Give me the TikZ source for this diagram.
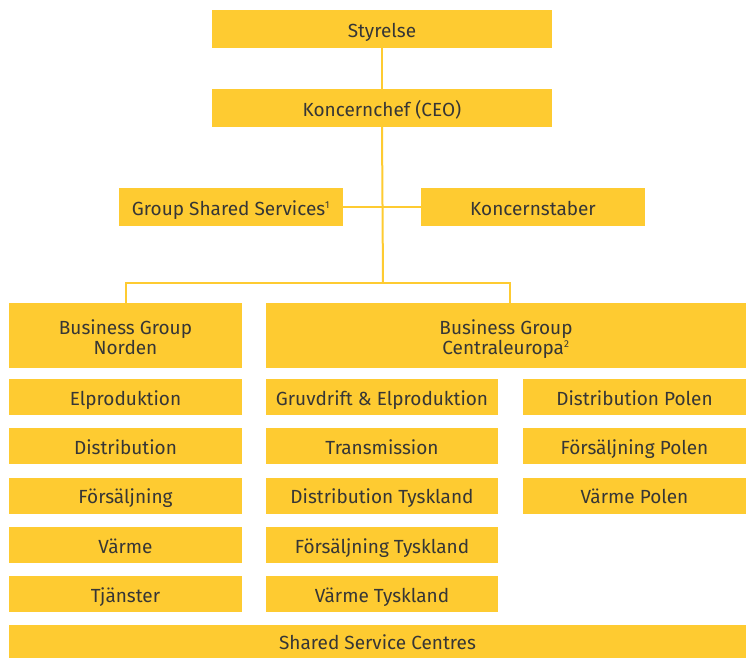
\documentclass[tikz,border=0pt]{standalone}
\usepackage{fontspec}
\setmainfont{Fira Sans}
\definecolor{vfy}{HTML}{FECB31}
\definecolor{vft}{HTML}{363636}
\newcommand{\fnmark}[1]{\smash{\textsuperscript{\fontsize{10}{10}\selectfont #1}}}
\begin{document}
\begin{tikzpicture}[x=1pt,y=-1pt,
  box/.style={fill=vfy,inner sep=0pt,align=center,text=vft,font=\fontsize{19}{20}\selectfont},
  one/.style={box,text height=16.5pt,text depth=0pt},
  two/.style={box,text height=37pt,text depth=0pt},
  conn/.style={draw=vfy,line width=2pt}]
\useasboundingbox (0,0) rectangle (747,658);
\node[one,minimum width=340,minimum height=38] (sty) at (382,29) {Styrelse};
\node[one,minimum width=340,minimum height=38] (ceo) at (382,108) {Koncernchef (CEO)};
\node[one,minimum width=224,minimum height=38] (gss) at (231,207) {Group Shared Services\fnmark{1}};
\node[one,minimum width=224,minimum height=38] (ks) at (533,207) {Koncernstaber};
\node[two,minimum width=233,minimum height=65] (bgn) at (125.5,335.5) {Business Group\\Norden};
\node[two,minimum width=480,minimum height=65] (bgc) at (506,335.5) {Business Group\\Centraleuropa\fnmark{2}};
\foreach \t/\n [count=\i from 0] in {Elproduktion/n1,Distribution/n2,Försäljning/n3,Värme/n4,Tjänster/n5}
  \node[one,minimum width=233,minimum height=36] (\n) at (125.5,397+49.25*\i) {\t};
\foreach \t/\n [count=\i from 0] in {Gruvdrift \& Elproduktion/m1,Transmission/m2,Distribution Tyskland/m3,Försäljning Tyskland/m4,Värme Tyskland/m5}
  \node[one,minimum width=232,minimum height=36] (\n) at (382,397+49.25*\i) {\t};
\foreach \t/\n [count=\i from 0] in {Distribution Polen/r1,Försäljning Polen/r2,Värme Polen/r3}
  \node[one,minimum width=223,minimum height=36] (\n) at (634.5,397+49.25*\i) {\t};
\node[one,minimum width=737,minimum height=33] (ssc) at (377.5,641.5) {Shared Service Centres};
\coordinate (j) at (383,283);
\draw[conn] (sty.south) -- (ceo.north);
\draw[conn] (ceo.south) -- (j);
\draw[conn] (gss.east) -- (ks.west);
\draw[conn] (bgn.north) |- (j);
\draw[conn] (j) -| ([xshift=3.5pt]bgc.north);
\end{tikzpicture}
\end{document}
